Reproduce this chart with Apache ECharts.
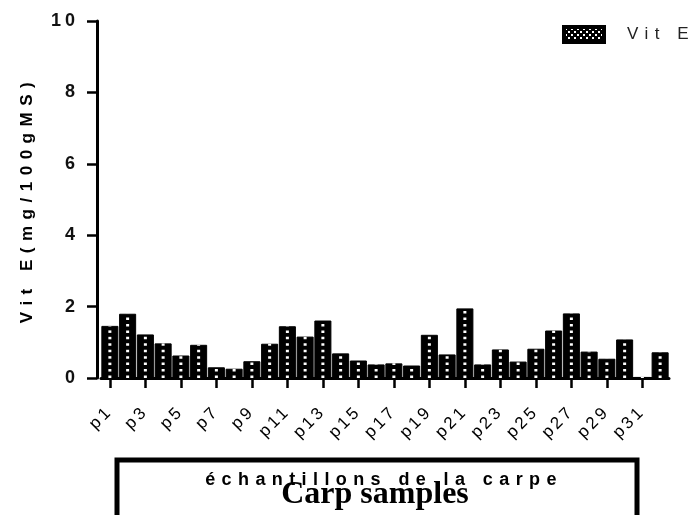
<!DOCTYPE html>
<html>
<head>
<meta charset="utf-8">
<script src="https://cdn.jsdelivr.net/npm/echarts@6/dist/echarts.min.js"></script>
<style>
html,body{margin:0;padding:0;background:#fff;}
#chart{width:691px;height:515px;}
</style>
</head>
<body>
<div id="chart"></div>
<script>
// ---- data ----
const categories = ['p1','p2','p3','p4','p5','p6','p7','p8','p9','p10','p11','p12','p13','p14','p15','p16',
                    'p17','p18','p19','p20','p21','p22','p23','p24','p25','p26','p27','p28','p29','p30','p31','p32'];
const vitE = [1.46,1.80,1.22,0.97,0.63,0.93,0.30,0.26,0.47,0.96,1.45,1.16,1.61,0.69,0.49,0.38,
              0.41,0.35,1.21,0.66,1.95,0.38,0.80,0.46,0.82,1.33,1.81,0.74,0.54,1.08,0.03,0.72];
const yMin = 0, yMax = 10, yStep = 2;
const yTickLabels = ['0','2','4','6','8','10'];
const seriesName = 'Vit E';
const yAxisName = 'Vit E(mg/100gMS)';
const xTitleFr = 'échantillons de la carpe';
const xTitleEn = 'Carp samples';

// letter spacing for the widely spaced texts of the original
const LETTER_SPACING = {};
LETTER_SPACING[yAxisName] = '6.5px';
LETTER_SPACING[seriesName] = '6.5px';
LETTER_SPACING[xTitleFr] = '6.4px';
yTickLabels.forEach(function (t) { LETTER_SPACING[t] = '4px'; });
categories.forEach(function (t) { LETTER_SPACING[t] = '3px'; });
(function () {
  const proto = CanvasRenderingContext2D.prototype;
  const orig = proto.fillText;
  proto.fillText = function (t, x, y, m) {
    const ls = LETTER_SPACING[t] || '0px';
    if ('letterSpacing' in this && this.letterSpacing !== ls) {
      this.letterSpacing = ls;
      const f = this.font; this.font = f;
    }
    m === undefined ? orig.call(this, t, x, y) : orig.call(this, t, x, y, m);
    if ('letterSpacing' in this && this.letterSpacing !== '0px') {
      this.letterSpacing = '0px';
      const f = this.font; this.font = f;
    }
  };
})();

// checkered pattern for the legend swatch
const pc = document.createElement('canvas');
pc.width = 6; pc.height = 6;
const pctx = pc.getContext('2d');
pctx.fillStyle = '#000'; pctx.fillRect(0, 0, 6, 6);
pctx.fillStyle = '#fff'; pctx.fillRect(1, 1, 2, 2); pctx.fillRect(4, 4, 2, 2);
const dotPattern = { image: pc, repeat: 'repeat' };

const FONT = 'Liberation Sans, Arial, sans-serif';
const chart = echarts.init(document.getElementById('chart'), null, { renderer: 'canvas' });
chart.setOption({
  animation: false,
  backgroundColor: '#fff',
  grid: { left: 101, top: 21, width: 568, height: 357, containLabel: false },
  legend: {
    left: 557, top: 20, padding: 5, itemWidth: 40, itemHeight: 15,
    data: [{ name: seriesName, icon: 'rect',
             itemStyle: { color: dotPattern, borderColor: '#000', borderWidth: 4 } }],
    textStyle: { fontSize: 17, color: '#222', fontFamily: FONT, padding: [0, 0, 0, 18] },
    selectedMode: false
  },
  xAxis: {
    type: 'category',
    data: categories,
    axisLine: { show: true, lineStyle: { color: '#000', width: 3 } },
    axisTick: { show: true, interval: 1, alignWithLabel: true, length: 10, lineStyle: { color: '#000', width: 2.5 } },
    axisLabel: { interval: 1, rotate: 45, margin: 31, fontSize: 17, color: '#000', fontFamily: FONT },
    splitLine: { show: false }
  },
  yAxis: {
    type: 'value', min: yMin, max: yMax, interval: yStep, offset: 4,
    name: yAxisName, nameLocation: 'middle', nameGap: 61, nameRotate: 90,
    nameTextStyle: { fontSize: 17, fontWeight: 'bold', color: '#000', fontFamily: FONT },
    axisLine: { show: true, lineStyle: { color: '#000', width: 3 } },
    axisTick: { show: true, length: 10, lineStyle: { color: '#000', width: 2.5 } },
    axisLabel: { margin: 18, fontSize: 18, fontWeight: 'bold', color: '#111', fontFamily: FONT },
    splitLine: { show: false }
  },
  series: [
    {
      name: seriesName, type: 'bar', data: vitE,
      barCategoryGap: '4%',
      itemStyle: { color: '#000', borderColor: '#000', borderWidth: 1 },
      z: 2
    },
    {
      name: 'dots', type: 'pictorialBar', data: vitE,
      symbol: 'rect', symbolSize: [3, 2.5], symbolRepeat: true, symbolMargin: 2,
      symbolClip: true,
      itemStyle: { color: '#fff' },
      z: 3, silent: true
    }
  ],
  graphic: [
    { type: 'rect', shape: { x: 117, y: 460, width: 520, height: 100 },
      style: { fill: 'none', stroke: '#000', lineWidth: 5 } },
    { type: 'text', style: { text: xTitleFr, x: 384, y: 480, textAlign: 'center', textVerticalAlign: 'middle',
      font: 'bold 18px ' + FONT, fill: '#000' } },
    { type: 'text', style: { text: xTitleEn, x: 375, y: 495, textAlign: 'center', textVerticalAlign: 'middle',
      font: 'bold 32px Liberation Serif, Times New Roman, serif', fill: '#000' } }
  ]
});
</script>
</body>
</html>
